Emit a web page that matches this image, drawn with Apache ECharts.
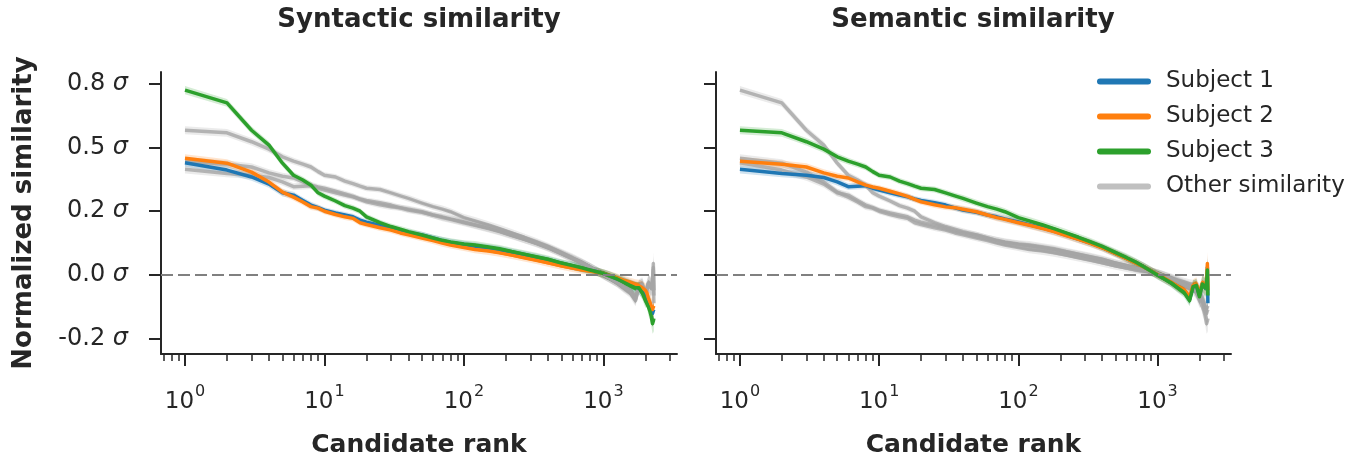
<!DOCTYPE html>
<html>
<head>
<meta charset="utf-8">
<script src="https://cdn.jsdelivr.net/npm/echarts@6/dist/echarts.min.js"></script>
<style>html,body{margin:0;padding:0;background:#fff}#c{width:1368px;height:462px}</style>
</head>
<body>
<div id="c"></div>
<script>
// ---- data ----
const ranks = [1,2,3,4,5,6,7,8,9,10,12,14,16,18,20,25,30,35,40,50,60,70,80,100,120,150,180,220,270,330,400,500,600,700,800,900,1000,1100,1250,1400,1550,1700,1800,1900,2000,2050,2100,2150,2200,2250,2280,2300];

const synS1 = [0.440,0.411,0.384,0.356,0.322,0.313,0.292,0.274,0.264,0.254,0.243,0.235,0.228,0.215,0.207,0.195,0.184,0.172,0.166,0.157,0.145,0.135,0.128,0.120,0.113,0.106,0.099,0.089,0.079,0.069,0.059,0.045,0.035,0.026,0.019,0.013,0.006,-0.003,-0.015,-0.026,-0.036,-0.046,-0.052,-0.065,-0.085,-0.080,-0.100,-0.115,-0.130,-0.150,-0.140,-0.135];
const synS2 = [0.457,0.438,0.403,0.364,0.325,0.305,0.286,0.268,0.262,0.250,0.237,0.228,0.222,0.205,0.198,0.185,0.176,0.165,0.158,0.145,0.135,0.125,0.118,0.108,0.100,0.094,0.087,0.078,0.068,0.058,0.048,0.036,0.028,0.021,0.016,0.012,0.006,-0.002,-0.012,-0.022,-0.030,-0.038,-0.042,-0.050,-0.060,-0.070,-0.090,-0.105,-0.120,-0.135,-0.125,-0.120];
const synS3 = [0.724,0.674,0.567,0.509,0.438,0.391,0.372,0.352,0.322,0.309,0.290,0.272,0.262,0.250,0.228,0.205,0.190,0.180,0.170,0.157,0.145,0.136,0.130,0.122,0.118,0.110,0.103,0.092,0.082,0.072,0.062,0.047,0.037,0.028,0.020,0.013,0.006,-0.003,-0.015,-0.028,-0.040,-0.050,-0.050,-0.070,-0.100,-0.095,-0.125,-0.140,-0.160,-0.190,-0.180,-0.170];

const semS1 = [0.414,0.398,0.391,0.382,0.365,0.346,0.348,0.350,0.340,0.333,0.322,0.313,0.306,0.298,0.292,0.283,0.274,0.263,0.255,0.246,0.235,0.228,0.220,0.208,0.197,0.184,0.172,0.157,0.141,0.125,0.108,0.085,0.065,0.048,0.032,0.016,0.001,-0.011,-0.029,-0.047,-0.062,-0.095,-0.045,-0.040,-0.080,-0.055,-0.035,-0.040,-0.050,-0.030,0.030,-0.110];
const semS2 = [0.446,0.434,0.423,0.400,0.387,0.380,0.365,0.352,0.345,0.340,0.328,0.318,0.308,0.296,0.287,0.275,0.267,0.264,0.258,0.248,0.235,0.225,0.218,0.205,0.195,0.182,0.170,0.155,0.140,0.124,0.107,0.084,0.064,0.047,0.031,0.016,0.002,-0.010,-0.027,-0.045,-0.058,-0.085,-0.040,-0.035,-0.070,-0.050,-0.030,-0.035,-0.045,-0.020,0.045,-0.060];
const semS3 = [0.567,0.557,0.522,0.493,0.463,0.446,0.434,0.423,0.405,0.391,0.384,0.368,0.358,0.348,0.340,0.335,0.322,0.310,0.300,0.282,0.268,0.258,0.248,0.225,0.212,0.196,0.182,0.165,0.148,0.130,0.112,0.088,0.068,0.050,0.032,0.015,0.000,-0.012,-0.030,-0.050,-0.068,-0.100,-0.045,-0.040,-0.085,-0.060,-0.035,-0.040,-0.050,-0.030,0.020,-0.080];

// half-width of the shaded confidence band around each curve
const ciHalf = [0.016,0.015,0.015,0.014,0.014,0.013,0.013,0.013,0.012,0.012,0.012,0.012,0.012,0.012,0.012,0.012,0.012,0.012,0.013,0.013,0.013,0.014,0.014,0.014,0.015,0.015,0.015,0.015,0.015,0.015,0.015,0.015,0.016,0.016,0.016,0.017,0.017,0.018,0.018,0.019,0.020,0.022,0.024,0.026,0.028,0.030,0.032,0.034,0.036,0.040,0.045,0.050];
// half-width of the rank-to-rank jitter of the curves (read as the visible thickness of the traces)
const jitterHalf = [0,0,0,0,0,0,0,0,0,0,0,0,0,0,0.001,0.001,0.002,0.002,0.002,0.003,0.003,0.003,0.004,0.004,0.005,0.005,0.005,0.006,0.006,0.006,0.007,0.007,0.007,0.008,0.008,0.008,0.009,0.009,0.010,0.010,0.011,0.011,0.012,0.012,0.012,0.012,0.012,0.012,0.012,0.012,0.012,0.012];

const subjectNames = ['Subject 1','Subject 2','Subject 3'];
const otherName = 'Other similarity';
const panelTitles = ['Syntactic similarity','Semantic similarity'];

const yTickValues = [-0.25, 0, 0.25, 0.5, 0.75];
const yTickLabels = ['-0.2','0.0','0.2','0.5','0.8'];
const xMajorTicks = [1, 10, 100, 1000];
const xTickExponents = ['0','1','2','3'];
const xMinorTicks = [0.7,0.8,0.9,2,3,4,5,6,7,8,9,20,30,40,50,60,70,80,90,200,300,400,500,600,700,800,900,2000,3000];

// ---- styling ----
const TXT = '#262626';
const FONT = 'DejaVu Sans';
const colors = ['#1f77b4','#ff7f0e','#2ca02c'];
const bandColors = ['rgba(31,119,180,0.2)','rgba(255,127,14,0.2)','rgba(44,160,44,0.2)'];
const jitterColors = ['rgba(31,119,180,0.85)','rgba(255,127,14,0.85)','rgba(44,160,44,0.85)'];
const grayLine = 'rgba(165,165,165,0.8)';
const grayBand = 'rgba(165,165,165,0.22)';
const grayJitter = 'rgba(140,140,140,0.6)';
const X_MIN = 0.673, X_MAX = 3370, Y_MIN = -0.309, Y_MAX = 0.795;

const grids = [
  {left: 161, top: 72, width: 516, height: 282, outerBoundsMode: 'none', containLabel: false},
  {left: 716, top: 72, width: 515, height: 282, outerBoundsMode: 'none', containLabel: false}
];

const xAxes = [], yAxes = [];
[0,1].forEach(p => {
  xAxes.push({
    type: 'log', gridIndex: p, min: X_MIN, max: X_MAX,
    name: 'Candidate rank', nameLocation: 'middle', nameGap: 79,
    nameTextStyle: {fontFamily: FONT, fontSize: 25, fontWeight: 'bold', color: TXT},
    axisLine: {show: true, onZero: false, lineStyle: {color: TXT, width: 2}},
    axisTick: {show: true, customValues: xMajorTicks, length: 12, lineStyle: {color: TXT, width: 2}},
    axisLabel: {show: true, customValues: xMajorTicks, margin: 30, fontFamily: FONT, fontSize: 23, color: TXT,
      formatter: v => { const k = Math.round(Math.log10(v)); return '{b|10}{s|' + xTickExponents[k] + '}'; },
      rich: {
        b: {fontFamily: FONT, fontSize: 23, color: TXT, lineHeight: 30, verticalAlign: 'bottom'},
        s: {fontFamily: FONT, fontSize: 16, color: TXT, lineHeight: 30, verticalAlign: 'top', padding: [0,0,0,1]}
      }},
    splitLine: {show: false}
  });
  xAxes.push({
    type: 'log', gridIndex: p, min: X_MIN, max: X_MAX, position: 'bottom',
    axisLine: {show: false, onZero: false},
    axisTick: {show: true, customValues: xMinorTicks, length: 7, lineStyle: {color: TXT, width: 1.5}},
    axisLabel: {show: false},
    splitLine: {show: false}
  });
  yAxes.push({
    type: 'value', gridIndex: p, min: Y_MIN, max: Y_MAX,
    name: p === 0 ? 'Normalized similarity' : '', nameLocation: 'middle', nameGap: 124,
    nameTextStyle: {fontFamily: FONT, fontSize: 26, fontWeight: 'bold', color: TXT},
    axisLine: {show: true, onZero: false, lineStyle: {color: TXT, width: 2}},
    axisTick: {show: true, customValues: yTickValues, length: 12, lineStyle: {color: TXT, width: 2}},
    axisLabel: {show: p === 0, customValues: yTickValues, margin: 33, fontFamily: FONT, fontSize: 24, color: TXT,
      formatter: v => {
        let best = 0; yTickValues.forEach((t,i) => { if (Math.abs(t - v) < Math.abs(yTickValues[best] - v)) best = i; });
        return yTickLabels[best] + ' {s|σ}';
      },
      rich: {s: {fontFamily: FONT, fontSize: 24, fontStyle: 'italic', color: TXT}}},
    splitLine: {show: false}
  });
});

const synSets = [synS1, synS2, synS3];
const semSets = [semS1, semS2, semS3];
const series = [];
function addBand(p, vals, half, color) {
  series.push({
    type: 'custom', xAxisIndex: p*2, yAxisIndex: p, silent: true, clip: true,
    data: [[ranks[0], vals[0]]],
    renderItem: (params, api) => {
      const pts = [];
      for (let i = 0; i < ranks.length; i++) pts.push(api.coord([ranks[i], vals[i] + half[i]]));
      for (let i = ranks.length - 1; i >= 0; i--) pts.push(api.coord([ranks[i], vals[i] - half[i]]));
      return {type: 'polygon', shape: {points: pts}, style: {fill: color}};
    }
  });
}
function addLine(p, name, vals, color, width) {
  series.push({
    type: 'line', name: name, xAxisIndex: p*2, yAxisIndex: p,
    data: ranks.map((r,i) => [r, vals[i]]),
    symbol: 'none', showSymbol: false, clip: true,
    lineStyle: {color: color, width: width, cap: 'butt', join: 'round'},
    itemStyle: {color: color}
  });
}
[0,1].forEach(p => {
  const main = p === 0 ? synSets : semSets;
  const other = p === 0 ? semSets : synSets;
  other.forEach(vals => {
    addBand(p, vals, ciHalf, grayBand);
    addBand(p, vals, jitterHalf, grayJitter);
    addLine(p, otherName, vals, grayLine, 3.5);
  });
  main.forEach((vals, k) => {
    addBand(p, vals, ciHalf, bandColors[k]);
    addBand(p, vals, jitterHalf, jitterColors[k]);
    addLine(p, subjectNames[k], vals, colors[k], 3.5);
  });
  // zero reference line
  series.push({
    type: 'line', name: '_zero' + p, xAxisIndex: p*2, yAxisIndex: p, data: [], silent: true,
    markLine: {silent: true, symbol: 'none', label: {show: false}, animation: false,
      lineStyle: {color: '#808080', width: 2, type: [12, 5]}, data: [{yAxis: 0}]}
  });
});

const chart = echarts.init(document.getElementById('c'), null, {renderer: 'canvas'});
chart.setOption({
  animation: false,
  backgroundColor: '#fff',
  title: [
    {text: panelTitles[0], left: 414, top: 2, textAlign: 'center', textStyle: {fontFamily: FONT, fontSize: 26, fontWeight: 'bold', color: TXT}},
    {text: panelTitles[1], left: 968, top: 2, textAlign: 'center', textStyle: {fontFamily: FONT, fontSize: 26, fontWeight: 'bold', color: TXT}}
  ],
  legend: {
    orient: 'vertical', left: 1092, top: 65, itemWidth: 54, itemHeight: 7, itemGap: 12,
    icon: 'path://M3,0 H51 A3,3 0 0 1 51,6 H3 A3,3 0 0 1 3,0 Z',
    textStyle: {fontFamily: FONT, fontSize: 23, color: TXT, padding: [0,0,0,10]},
    data: [
      {name: subjectNames[0]}, {name: subjectNames[1]}, {name: subjectNames[2]},
      {name: otherName, itemStyle: {color: '#c0c0c0'}}
    ],
    selectedMode: false
  },
  grid: grids,
  xAxis: xAxes,
  yAxis: yAxes,
  series: series
});
</script>
</body>
</html>
